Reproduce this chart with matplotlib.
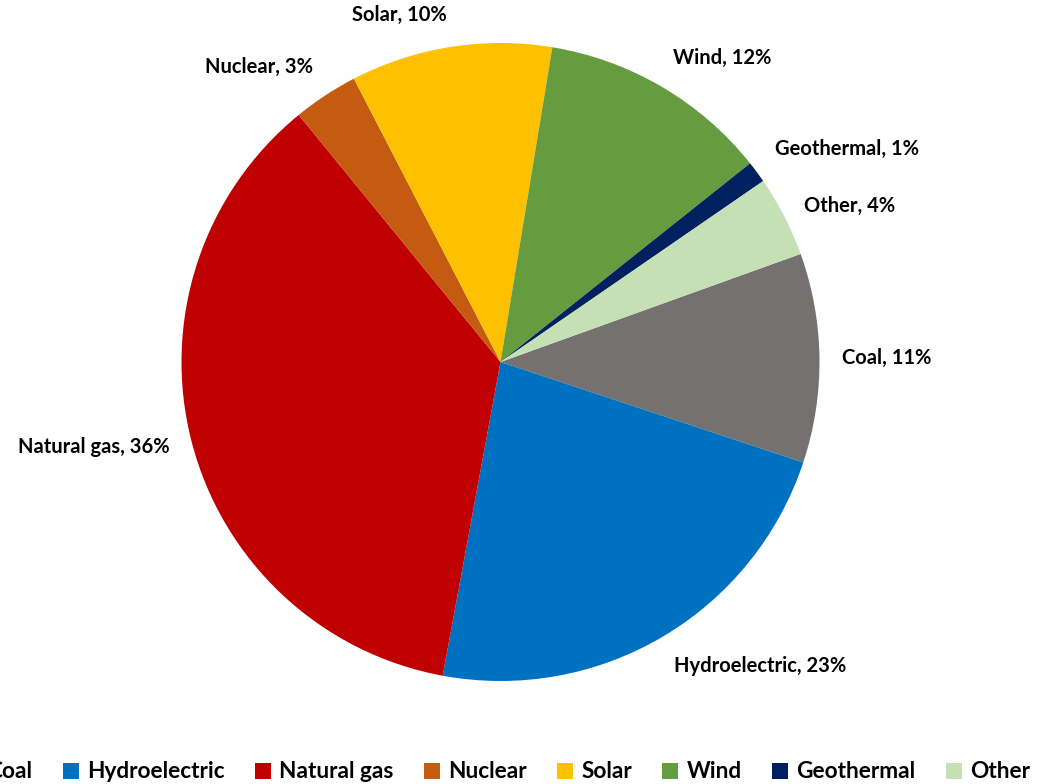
import numpy as np
import matplotlib
matplotlib.use("Agg")
import matplotlib.pyplot as plt

plt.rcParams['font.family'] = ['Lato', 'DejaVu Sans']
plt.rcParams['font.weight'] = 'bold'

# electricity generation mix, % share
sources = ['Coal', 'Hydroelectric', 'Natural gas', 'Nuclear', 'Solar', 'Wind', 'Geothermal', 'Other']
shares = [10.6, 22.8, 36.2, 3.3, 10.2, 11.7, 1.1, 4.1]
colors = ['#767171', '#0070C0', '#C00000', '#C55A11', '#FFC000', '#659C3F', '#002060', '#C5E0B4']

W, H = 1043, 784
fig = plt.figure(figsize=(W / 100, H / 100), dpi=100)

# pie centred at (500, 362) px, radius 319 px
cx, cy, r = 500.5, 362, 319
ax = fig.add_axes([(cx - r) / W, (H - cy - r) / H, 2 * r / W, 2 * r / H])

wedges, _ = ax.pie(shares, colors=colors, startangle=19.8, counterclock=False,
                   radius=1, wedgeprops=dict(linewidth=0))
ax.set_xlim(-1, 1)
ax.set_ylim(-1, 1)

# data labels outside the slices
for w, name, val in zip(wedges, sources, shares):
    mid = np.deg2rad((w.theta1 + w.theta2) / 2)
    c, s = np.cos(mid), np.sin(mid)
    d = 1.07
    ha = 'left' if c > 0.05 else ('right' if c < -0.05 else 'center')
    va = 'bottom' if s > 0.5 else ('top' if s < -0.5 else 'center')
    ax.text(d * c, d * s, f"{name}, {val:.0f}%", ha=ha, va=va,
            fontsize=14.5, fontweight='bold', color='#000000')

fig.legend(wedges, sources, loc='center', bbox_to_anchor=(0.476, 12 / H), ncol=8,
           frameon=False, handlelength=0.7, handleheight=0.7,
           handletextpad=0.36, columnspacing=1.35,
           prop=dict(family=['Lato', 'DejaVu Sans'], weight='bold', size=16.3))

fig.savefig('out.png', dpi=100)
